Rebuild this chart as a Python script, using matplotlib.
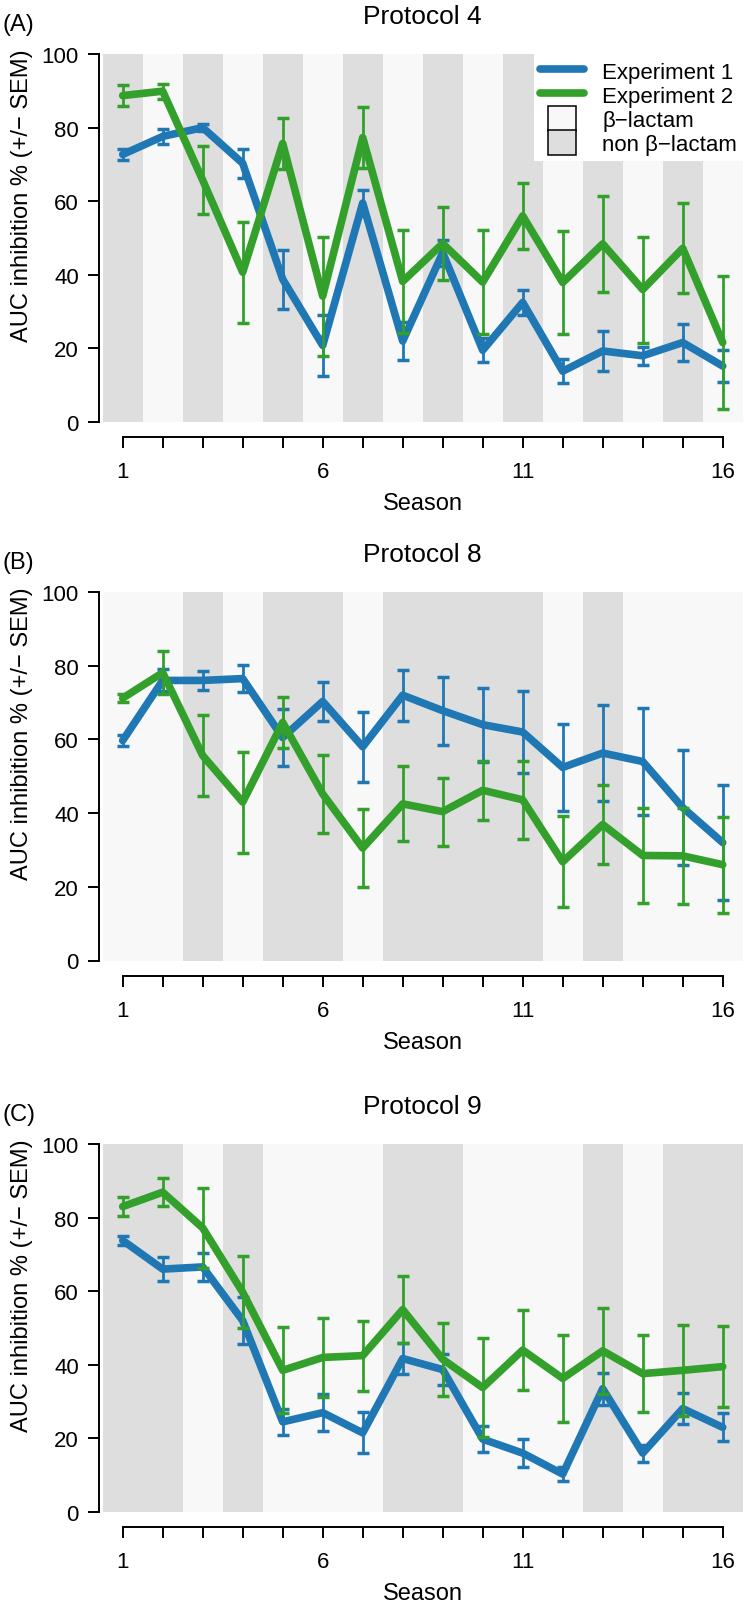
import numpy as np
import matplotlib
matplotlib.use("Agg")
import matplotlib.pyplot as plt
from matplotlib.lines import Line2D
from matplotlib.patches import Patch, Rectangle
from matplotlib.legend_handler import HandlerPatch

plt.rcParams["font.family"] = ["Liberation Sans", "DejaVu Sans"]

seasons = np.arange(1, 17)
tick_labels = ["1", "", "", "", "", "6", "", "", "", "", "11", "", "", "", "", "16"]

# 1 = non beta-lactam (grey), 0 = beta-lactam (light)
drug_p4 = [1, 0, 1, 0, 1, 0, 1, 0, 1, 0, 1, 0, 1, 0, 1, 0]
drug_p8 = [0, 0, 1, 0, 1, 1, 0, 1, 1, 1, 1, 0, 1, 0, 0, 0]
drug_p9 = [1, 1, 0, 1, 0, 0, 0, 1, 1, 0, 0, 0, 1, 0, 1, 1]

# Protocol 4
exp1_p4 = [72.7, 77.6, 80.0, 70.3, 38.8, 20.8, 59.5, 22.0, 46.0, 19.5, 32.5, 13.8, 19.3, 18.0, 21.6, 15.2]
sem1_p4 = [1.5, 2.0, 1.0, 4.0, 8.0, 8.2, 3.5, 5.2, 3.5, 3.3, 3.5, 3.3, 5.5, 2.4, 5.0, 4.4]
exp2_p4 = [88.7, 89.9, 65.7, 40.7, 75.7, 34.2, 77.3, 38.2, 48.5, 38.0, 56.0, 37.9, 48.4, 36.0, 47.2, 21.6]
sem2_p4 = [2.9, 2.0, 9.3, 13.7, 7.0, 16.2, 8.2, 14.0, 9.9, 14.2, 9.0, 14.0, 13.0, 14.4, 12.2, 18.1]

# Protocol 8
exp1_p8 = [59.7, 76.0, 76.0, 76.5, 60.5, 70.3, 58.0, 72.0, 67.8, 64.0, 62.0, 52.4, 56.3, 54.0, 41.5, 32.0]
sem1_p8 = [1.6, 3.0, 2.5, 3.7, 7.7, 5.2, 9.5, 6.9, 9.2, 10.0, 11.0, 11.9, 13.1, 14.5, 15.6, 15.5]
exp2_p8 = [71.2, 78.1, 55.6, 43.0, 64.6, 45.2, 30.5, 42.5, 40.4, 46.2, 43.6, 26.8, 36.9, 28.5, 28.4, 26.0]
sem2_p8 = [1.0, 5.8, 11.0, 13.7, 7.0, 10.6, 10.5, 10.2, 9.2, 8.0, 10.6, 12.3, 10.7, 12.8, 13.0, 13.0]

# Protocol 9
exp1_p9 = [73.8, 66.0, 66.6, 52.0, 24.5, 27.0, 21.5, 41.7, 38.7, 19.8, 16.0, 10.3, 33.5, 16.0, 28.1, 23.0]
sem1_p9 = [1.3, 3.2, 3.7, 6.3, 3.5, 5.0, 5.6, 4.2, 4.2, 3.5, 3.8, 1.8, 4.3, 2.3, 4.2, 3.8]
exp2_p9 = [83.0, 86.9, 77.2, 59.7, 38.5, 42.0, 42.5, 55.0, 41.5, 33.8, 44.0, 36.3, 43.8, 37.6, 38.5, 39.5]
sem2_p9 = [2.5, 3.8, 10.8, 9.8, 11.7, 10.7, 9.5, 9.2, 9.9, 13.5, 10.9, 11.8, 11.7, 10.5, 12.3, 11.0]

blue = "#1f78b4"
green = "#33a02c"
grey = "#dedede"
light = "#f8f8f8"

panels = [
    ("(A)", "Protocol 4", drug_p4, exp1_p4, sem1_p4, exp2_p4, sem2_p4, 423.0, 368.0),
    ("(B)", "Protocol 8", drug_p8, exp1_p8, sem1_p8, exp2_p8, sem2_p8, 961.5, 368.5),
    ("(C)", "Protocol 9", drug_p9, exp1_p9, sem1_p9, exp2_p9, sem2_p9, 1513.0, 368.0),
]

W, H = 746, 1608
fig = plt.figure(figsize=(W / 100, H / 100), dpi=100)


def narrow_patch(legend, orig_handle, xdescent, ydescent, width, height, fontsize):
    # narrower box, a bit taller so the two boxes touch
    w = width * 0.64
    return Rectangle((-xdescent + (width - w) / 2, -ydescent - 0.04 * height), w, height * 1.08)


for i, (letter, title, drug, m1, s1, m2, s2, bot_px, h_px) in enumerate(panels):
    ax = fig.add_axes([102.7 / W, 1 - bot_px / H, 640 / W, h_px / H])
    ax.bar(seasons, [100] * 16, width=1.0, color=[grey if d else light for d in drug],
           linewidth=0, zorder=0)
    ax.errorbar(seasons, m1, yerr=s1, color=blue, lw=5.5, elinewidth=2, capsize=4.5,
                capthick=2.5, solid_joinstyle="round", solid_capstyle="round", zorder=2)
    ax.errorbar(seasons, m2, yerr=s2, color=green, lw=5.5, elinewidth=2, capsize=4.5,
                capthick=2.5, solid_joinstyle="round", solid_capstyle="round", zorder=3)

    ax.set_xlim(0.5, 16.5)
    ax.set_ylim(0, 100)
    for sp in ["top", "right"]:
        ax.spines[sp].set_visible(False)
    ax.spines["left"].set_position(("outward", 2.6))
    ax.spines["bottom"].set_position(("outward", 10.8))
    ax.spines["left"].set_bounds(0, 100)
    ax.spines["bottom"].set_bounds(1, 16)
    for sp in ["left", "bottom"]:
        ax.spines[sp].set_linewidth(1.4)
    ax.set_xticks(seasons)
    ax.set_xticklabels(tick_labels)
    ax.set_yticks([0, 20, 40, 60, 80, 100])
    ax.tick_params(axis="x", length=8, width=1.4, pad=9.5, labelsize=16)
    ax.tick_params(axis="y", length=8, width=1.4, pad=6.5, labelsize=16)

    ax.set_ylabel("AUC inhibition % (+/\u2212 SEM)", fontsize=17)
    ax.yaxis.set_label_coords(-0.109, 0.617)
    ax.set_xlabel("Season", fontsize=17)
    ax.xaxis.set_label_coords(0.5, -0.19)

    ax.text(0.5, 1 + 38 / h_px, title, transform=ax.transAxes, ha="center",
            va="center", fontsize=19)
    top_px = bot_px - h_px
    fig.text(3 / W, 1 - (top_px - 30) / H, letter, ha="left", va="center", fontsize=17)

    if i == 0:
        handles = [
            Line2D([], [], color=blue, lw=5.5, solid_capstyle="round"),
            Line2D([], [], color=green, lw=5.5, solid_capstyle="round"),
            Patch(facecolor=light, edgecolor="black", linewidth=1.1),
            Patch(facecolor=grey, edgecolor="black", linewidth=1.1),
        ]
        labels = ["Experiment 1", "Experiment 2", "\u03b2\u2212lactam", "non \u03b2\u2212lactam"]
        leg = ax.legend(handles, labels, loc="upper right", fontsize=16, frameon=True,
                        fancybox=False, framealpha=1, borderaxespad=0, borderpad=0.25,
                        handlelength=2.0, handleheight=1.2, labelspacing=0,
                        handletextpad=0.8,
                        handler_map={Patch: HandlerPatch(patch_func=narrow_patch)})
        leg.get_frame().set_edgecolor("none")
        leg.get_frame().set_facecolor("white")
        leg.set_zorder(5)

fig.savefig("out.png", dpi=100)
